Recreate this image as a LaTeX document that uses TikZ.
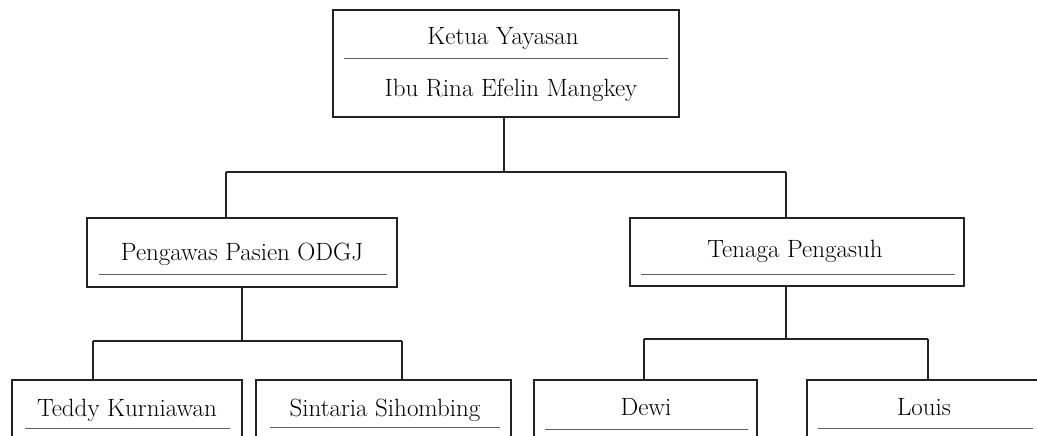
\documentclass[tikz,border=0pt]{standalone}
\usetikzlibrary{calc}
\definecolor{ink}{RGB}{35,35,35}
\definecolor{rule}{RGB}{95,95,95}
\begin{document}
\begin{tikzpicture}[x=1pt,y=-1pt,
  box/.style={draw=ink,line width=1.4pt,rectangle,inner sep=0pt},
  sep/.style={draw=rule,line width=0.9pt},
  conn/.style={draw=ink,line width=1.4pt},
  lbl/.style={anchor=base,inner sep=0pt,text=black,font=\fontsize{25}{30}\selectfont}]
\useasboundingbox (0,0) rectangle (1037,436);
\clip (0,0) rectangle (1037,436);
% boxes
\node[box,minimum width=346pt,minimum height=107pt] (top) at (506,63.5) {};
\node[box,minimum width=310pt,minimum height=69pt] (peng) at (242,252.5) {};
\node[box,minimum width=334pt,minimum height=68pt] (ten) at (797,252) {};
\node[box,minimum width=230pt,minimum height=100pt] (teddy) at (127,430) {};
\node[box,minimum width=255pt,minimum height=100pt] (sint) at (383.5,430) {};
\node[box,minimum width=223pt,minimum height=100pt] (dewi) at (645.5,430) {};
\node[box,minimum width=260pt,minimum height=100pt] (louis) at (937,430) {};
% separator lines
\draw[sep] (344,58) -- (668,58);
\draw[sep] (99,274) -- (387,274);
\draw[sep] (641,274) -- (955,274);
\draw[sep] (25,428) -- (230,428);
\draw[sep] (270,427) -- (500,427);
\draw[sep] (545,429) -- (748,429);
\draw[sep] (818,428) -- (1033,428);
% labels
\node[lbl] (t1) at (503,45) {Ketua Yayasan};
\node[lbl] (t2) at (511,97) {Ibu Rina Efelin Mangkey};
\node[lbl] (t3) at (242,260) {Pengawas Pasien ODGJ};
\node[lbl] (t4) at (795,257) {Tenaga Pengasuh};
\node[lbl] (t5) at (127,416) {Teddy Kurniawan};
\node[lbl] (t6) at (385,416) {Sintaria Sihombing};
\node[lbl] (t7) at (646,415) {Dewi};
\node[lbl] (t8) at (924,415) {Louis};
% connectors
\coordinate (j0) at (504,172);
\coordinate (b1) at (226,172);
\coordinate (b2) at (786,172);
\draw[conn] (top.south -| j0) -- (j0);
\draw[conn] (b1) -- (b2);
\draw[conn] (b1) -- (b1 |- peng.north);
\draw[conn] (b2) -- (b2 |- ten.north);
\coordinate (j1) at (242,341);
\coordinate (c1) at (93,341);
\coordinate (c2) at (402,341);
\draw[conn] (peng.south -| j1) -- (j1);
\draw[conn] (c1) -- (c2);
\draw[conn] (c1) -- (c1 |- teddy.north);
\draw[conn] (c2) -- (c2 |- sint.north);
\coordinate (j2) at (786,339);
\coordinate (d1) at (644,339);
\coordinate (d2) at (928,339);
\draw[conn] (ten.south -| j2) -- (j2);
\draw[conn] (d1) -- (d2);
\draw[conn] (d1) -- (d1 |- dewi.north);
\draw[conn] (d2) -- (d2 |- louis.north);
\end{tikzpicture}
\end{document}
